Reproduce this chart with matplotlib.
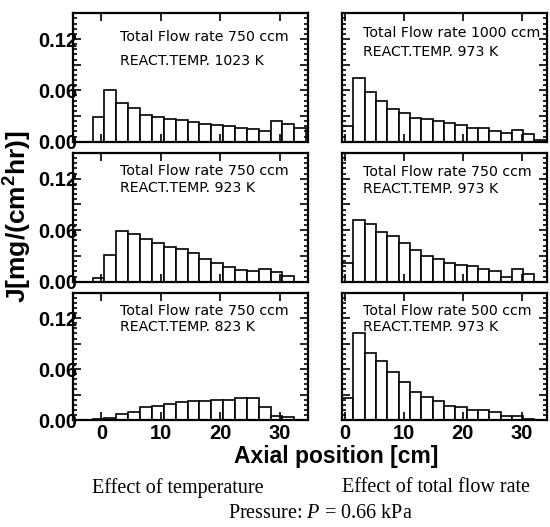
import numpy as np
import matplotlib
matplotlib.use("Agg")
import matplotlib.pyplot as plt
from matplotlib.ticker import MultipleLocator

plt.rcParams["mathtext.fontset"] = "custom"
plt.rcParams["mathtext.rm"] = "Liberation Serif"
plt.rcParams["mathtext.it"] = "Liberation Serif:italic"
plt.rcParams["mathtext.bf"] = "Liberation Sans:bold"

# axial bin centres [cm]
pos_left = [-0.5, 1.5, 3.5, 5.5, 7.5, 9.5, 11.5, 13.5, 15.5, 17.5,
            19.5, 21.5, 23.5, 25.5, 27.5, 29.5, 31.5, 33.5]
pos_right = [0.45, 2.37, 4.29, 6.21, 8.13, 10.05, 11.97, 13.89, 15.81, 17.73,
             19.65, 21.57, 23.49, 25.41, 27.33, 29.25, 31.17, 33.09]

# effect of temperature (750 ccm)
j_1023 = [0.029, 0.060, 0.045, 0.039, 0.031, 0.029, 0.027, 0.025, 0.023, 0.021,
          0.020, 0.018, 0.016, 0.015, 0.013, 0.024, 0.021, 0.016]
j_923 = [0.004, 0.031, 0.059, 0.055, 0.050, 0.045, 0.041, 0.038, 0.033, 0.026,
         0.022, 0.017, 0.014, 0.012, 0.015, 0.011, 0.007, 0.0]
j_823 = [0.001, 0.002, 0.007, 0.009, 0.015, 0.017, 0.019, 0.021, 0.022, 0.022,
         0.023, 0.024, 0.026, 0.026, 0.015, 0.005, 0.004, 0.0]

# effect of total flow rate (973 K)
j_1000 = [0.018, 0.074, 0.058, 0.048, 0.038, 0.033, 0.028, 0.027, 0.024, 0.022,
          0.020, 0.016, 0.016, 0.013, 0.010, 0.014, 0.009, 0.002]
j_750 = [0.022, 0.072, 0.067, 0.058, 0.053, 0.045, 0.037, 0.030, 0.026, 0.022,
         0.019, 0.018, 0.015, 0.013, 0.006, 0.015, 0.009, 0.0]
j_500 = [0.026, 0.103, 0.079, 0.070, 0.056, 0.045, 0.033, 0.027, 0.022, 0.017,
         0.015, 0.012, 0.012, 0.009, 0.005, 0.005, 0.001, 0.0]

labels_left = [("Total Flow rate 750 ccm", "REACT.TEMP. 1023 K"),
               ("Total Flow rate 750 ccm", "REACT.TEMP. 923 K"),
               ("Total Flow rate 750 ccm", "REACT.TEMP. 823 K")]
labels_right = [("Total Flow rate 1000 ccm", "REACT.TEMP. 973 K"),
                ("Total Flow rate 750 ccm", "REACT.TEMP. 973 K"),
                ("Total Flow rate 500 ccm", "REACT.TEMP. 973 K")]

fig = plt.figure(figsize=(5.5, 5.27), dpi=100)

rows = [(0.7311, 0.2436), (0.4655, 0.2442), (0.2030, 0.2416)]
left_x, left_w = 0.1327, 0.4273
right_x, right_w = 0.6218, 0.3722

data_left = [j_1023, j_923, j_823]
data_right = [j_1000, j_750, j_500]
# text positions (axes coords) of the two label lines
txt_y_left = [(0.815, 0.625), (0.86, 0.726), (0.859, 0.728)]
txt_y_right = [(0.849, 0.70), (0.855, 0.72), (0.859, 0.728)]


def style(ax, xlim, show_y, show_x):
    ax.set_xlim(*xlim)
    ax.set_ylim(0, 0.15)
    ax.xaxis.set_major_locator(MultipleLocator(10))
    ax.yaxis.set_major_locator(MultipleLocator(0.03))
    ax.yaxis.set_minor_locator(MultipleLocator(0.006))
    ax.tick_params(which="both", direction="in", top=True, right=True, width=1.2)
    ax.tick_params(which="major", length=6)
    ax.tick_params(which="minor", length=3)
    ax.tick_params(axis="y", pad=-3)
    ax.tick_params(axis="x", pad=3)
    for s in ax.spines.values():
        s.set_linewidth(1.6)
    if show_y:
        ax.set_yticks([0, 0.03, 0.06, 0.09, 0.12])
        ax.set_yticklabels(["0.00", "", "0.06", "", "0.12"])
    else:
        ax.set_yticklabels([])
    if show_x:
        ax.set_xticks([0, 10, 20, 30])
        ax.set_xticklabels(["0", "10", "20", "30"])
    else:
        ax.set_xticklabels([])
    for lab in ax.get_xticklabels() + ax.get_yticklabels():
        lab.set_fontfamily("Liberation Sans")
        lab.set_fontweight("bold")
        lab.set_fontsize(14.5)


for i, (b, h) in enumerate(rows):
    axl = fig.add_axes([left_x, b, left_w, h])
    axl.bar(pos_left, data_left[i], width=2.0, color="white",
            edgecolor="black", linewidth=1.2)
    style(axl, (-4.8, 34.8), True, i == 2)
    axl.text(0.199, txt_y_left[i][0], labels_left[i][0], transform=axl.transAxes,
             fontsize=10.2, family="DejaVu Sans", va="center")
    axl.text(0.199, txt_y_left[i][1], labels_left[i][1], transform=axl.transAxes,
             fontsize=10.2, family="DejaVu Sans", va="center")

    axr = fig.add_axes([right_x, b, right_w, h])
    axr.bar(pos_right, data_right[i], width=1.92, color="white",
            edgecolor="black", linewidth=1.2)
    style(axr, (-0.5, 34.2), False, i == 2)
    axr.text(0.101, txt_y_right[i][0], labels_right[i][0], transform=axr.transAxes,
             fontsize=10.2, family="DejaVu Sans", va="center")
    axr.text(0.101, txt_y_right[i][1], labels_right[i][1], transform=axr.transAxes,
             fontsize=10.2, family="DejaVu Sans", va="center")

fig.text(18 / 550, 1 - 217 / 527, "J[mg/(cm$\\mathbf{^2}$hr)]", rotation=90,
         ha="center", va="center", fontsize=19, fontweight="bold",
         family="Liberation Sans")
fig.text(336 / 550, 1 - 457 / 527, "Axial position [cm]", ha="center",
         va="center", fontsize=16.5, fontweight="bold", family="Liberation Sans")
fig.text(178 / 550, 1 - 488 / 527, "Effect of temperature", ha="center",
         va="center", fontsize=14.5, family="Liberation Serif")
fig.text(436 / 550, 1 - 488 / 527, "Effect of total flow rate", ha="center",
         va="center", fontsize=14.5, family="Liberation Serif")
fig.text(320 / 550, 1 - 514 / 527, "Pressure: $\\mathit{P}$ = 0.66 kPa", ha="center",
         va="center", fontsize=14.5, family="Liberation Serif")

fig.savefig("out.png", dpi=100)
